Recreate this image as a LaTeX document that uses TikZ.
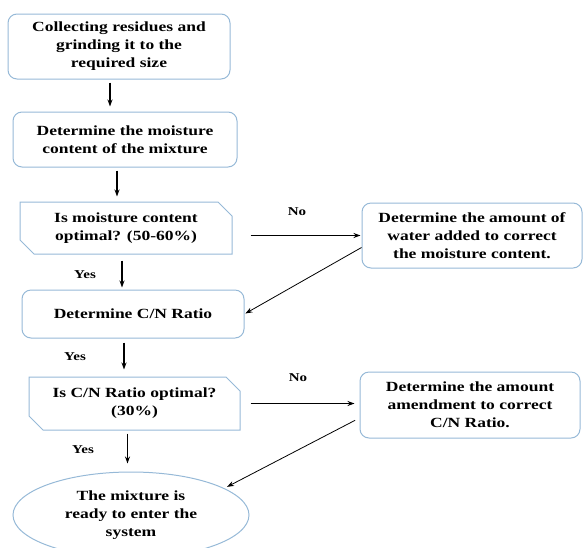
\documentclass[tikz,border=0pt]{standalone}
\usepackage{fontspec}
\setmainfont[FakeStretch=1.25]{Liberation Serif}
\usetikzlibrary{arrows.meta,shapes.geometric,shapes.misc}

\definecolor{boxline}{RGB}{150,185,215}

\begin{document}
\begin{tikzpicture}[x=1pt, y=-1pt,
    stepbox/.style={draw=boxline, line width=1pt, rounded corners=9pt,
      align=center, inner sep=0pt, font=\bfseries\fontsize{14}{18}\selectfont},
    askbox/.style={draw=boxline, line width=1pt, chamfered rectangle,
      chamfered rectangle corners={north east,south west}, chamfered rectangle sep=7pt,
      align=center, inner sep=0pt, font=\bfseries\fontsize{14}{18}\selectfont},
    endbox/.style={draw=boxline, line width=1pt, ellipse,
      align=center, inner sep=0pt, font=\bfseries\fontsize{14}{18}\selectfont},
    flow/.style={line width=1.2pt, -{Stealth[length=7pt,width=5pt]}},
    back/.style={line width=0.8pt, -{Stealth[length=7pt,width=5pt]}},
    tag/.style={font=\bfseries\fontsize{12}{14}\selectfont}]

  \useasboundingbox (0,0) rectangle (583,547);

  % main column
  \node [stepbox, minimum width=222pt, minimum height=65pt] (collect) at (119,46.5)
    {Collecting residues and\\grinding it to the\\required size};
  \node [stepbox, minimum width=224pt, minimum height=55pt] (moist) at (125,139.5)
    {Determine the moisture\\content of the mixture};
  \node [askbox, minimum width=212pt, minimum height=52pt] (askmoist) at (126,228)
    {Is moisture content\\optimal? (50-60\%)};
  \node [stepbox, minimum width=222pt, minimum height=48pt] (ratio) at (133,314)
    {Determine C/N Ratio};
  \node [askbox, minimum width=211pt, minimum height=53pt] (askratio) at (134.5,403.5)
    {Is C/N Ratio optimal?\\(30\%)};
  \node [endbox, minimum width=236pt, minimum height=86pt] (ready) at (131,515)
    {The mixture is\\ready to enter the\\system};

  % corrections
  \node [stepbox, minimum width=220pt, minimum height=65pt] (water) at (472,235.5)
    {Determine the amount of\\water added to correct\\the moisture content.};
  \node [stepbox, minimum width=220pt, minimum height=66pt] (amend) at (470,405)
    {Determine the amount\\amendment to correct\\C/N Ratio.};

  % labels
  \node [tag] (no1) at (297,212) {No};
  \node [tag] (no2) at (298,378) {No};
  \node [tag] (yes1) at (85,275) {Yes};
  \node [tag] (yes2) at (75,357) {Yes};
  \node [tag] (yes3) at (83,450) {Yes};

  \draw [flow, shorten <=3pt, shorten >=5pt] ([xshift=-9pt]collect.south) -- ([xshift=-9pt]collect.south |- moist.north);
  \draw [flow, shorten <=3pt, shorten >=5pt] ([xshift=-8pt]moist.south) -- ([xshift=-8pt]moist.south |- askmoist.north);
  \draw [flow, shorten <=6pt, shorten >=2pt] ([xshift=-4pt]askmoist.south) -- ([xshift=-4pt]askmoist.south |- ratio.north);
  \draw [flow, shorten <=4pt, shorten >=7pt] ([xshift=-9pt]ratio.south) -- ([xshift=-9pt]ratio.south |- askratio.north);
  \draw [flow, shorten <=3pt, shorten >=8pt] ([xshift=-7pt]askratio.south) -- ([xshift=-7pt]askratio.south |- ready.north);

  \draw [flow, shorten <=18pt, shorten >=1pt] (askmoist.east |- water.west) -- (water.west);
  \draw [flow, shorten <=10pt, shorten >=5pt] (askratio.east) -- (askratio.east -| amend.west);

  \draw [back, shorten >=1pt] ([yshift=-12pt]water.west) -- (ratio.east);
  \draw [back, shorten <=5pt, shorten >=3pt] ([yshift=-13pt]amend.west) -- (ready.16);

\end{tikzpicture}
\end{document}
